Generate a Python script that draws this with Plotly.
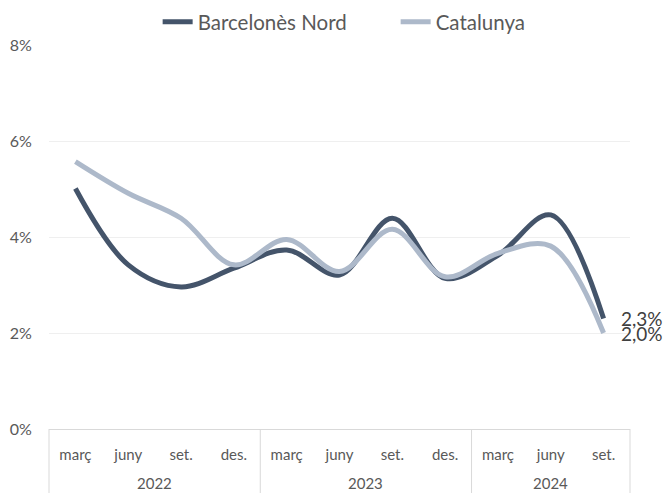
import plotly.graph_objects as go

years = ["2022"] * 4 + ["2023"] * 4 + ["2024"] * 3
months = ["març", "juny", "set.", "des.", "març", "juny", "set.", "des.", "març", "juny", "set."]

barcelones_nord = [5.01, 3.42, 2.96, 3.35, 3.73, 3.21, 4.39, 3.14, 3.62, 4.46, 2.3]
catalunya = [5.57, 4.91, 4.39, 3.42, 3.95, 3.28, 4.16, 3.17, 3.66, 3.81, 2.0]

series = [
    ("Barcelonès Nord", barcelones_nord, "#44546A"),
    ("Catalunya", catalunya, "#ADB9CA"),
]

W, H = 667, 493
M = dict(l=49, r=37, t=45, b=64)
plot_h = H - M["t"] - M["b"]

# unique category per point, months shown as tick text
cats = ["%s %s" % (m, y) for m, y in zip(months, years)]
n = len(cats)

fig = go.Figure()
for name, vals, color in series:
    fig.add_trace(go.Scatter(
        x=cats,
        y=vals,
        name=name,
        mode="lines",
        line=dict(color=color, width=5, shape="spline", smoothing=1),
        cliponaxis=False,
    ))
    # end-of-line value label
    fig.add_annotation(
        x=n - 1, y=vals[-1],
        text=("%.1f%%" % vals[-1]).replace(".", ","),
        showarrow=False, xanchor="left", yanchor="middle", xshift=15,
        font=dict(size=19, color="#404040"),
    )

# year row + group dividers under the month labels
groups = []
for i, y in enumerate(years):
    if not groups or groups[-1][0] != y:
        groups.append([y, i, i])
    else:
        groups[-1][2] = i

for y, i0, i1 in groups:
    fig.add_annotation(
        x=(i0 + i1) / 2, y=-M["b"] / plot_h, xref="x", yref="paper",
        text=y, showarrow=False, yanchor="bottom", borderpad=0,
        font=dict(size=15, color="#595959"),
    )

bounds = [g[1] for g in groups] + [n]
for b in bounds:
    fig.add_shape(
        type="line", xref="x domain", yref="paper",
        x0=b / n, x1=b / n, y0=0, y1=-M["b"] / plot_h,
        line=dict(color="#d9d9d9", width=1),
    )

fig.update_layout(
    width=W,
    height=H,
    margin=dict(M, autoexpand=False),
    paper_bgcolor="white",
    plot_bgcolor="white",
    font=dict(family="Lato", color="#595959"),
    showlegend=True,
    legend=dict(
        orientation="h",
        x=0.187, xanchor="left",
        y=1.06, yanchor="middle",
        entrywidth=193,
        font=dict(size=20.5, color="#595959"),
    ),
    xaxis=dict(
        type="category",
        range=[-0.5, n - 0.5],
        tickmode="array",
        tickvals=cats,
        ticktext=months,
        showline=True,
        linecolor="#d9d9d9",
        linewidth=1,
        showgrid=False,
        ticks="",
        ticklabelstandoff=12,
        tickfont=dict(size=15, color="#595959"),
        automargin=False,
    ),
    yaxis=dict(
        range=[0, 8],
        dtick=2,
        ticksuffix="%",
        showgrid=True,
        gridcolor="#efefef",
        zeroline=False,
        ticks="outside",
        ticklen=13,
        tickcolor="rgba(0,0,0,0)",
        tickfont=dict(size=16, color="#595959"),
        automargin=False,
    ),
)

# drop the default 8px body margin so the figure fills the window exactly
fig.write_html("out.html", config={"displayModeBar": False},
               post_script="document.body.style.margin = '0';")
